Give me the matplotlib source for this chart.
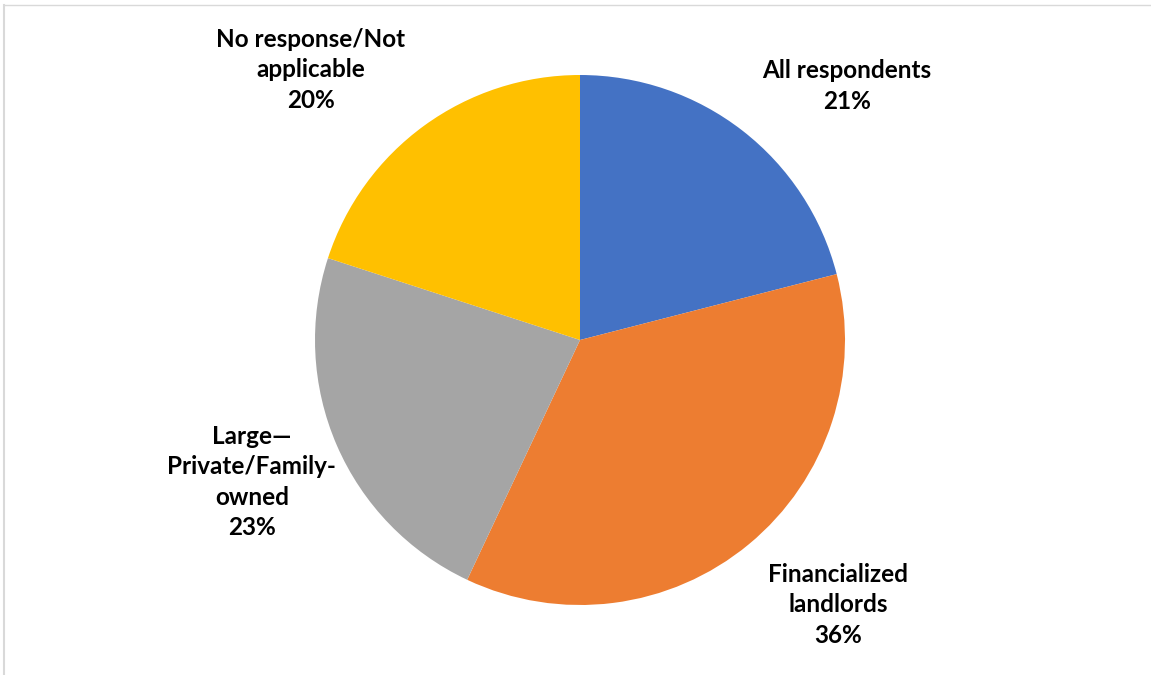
import matplotlib
matplotlib.use("Agg")
from matplotlib import pyplot as plt
from matplotlib.lines import Line2D

# data
labels = ["All respondents", "Financialized\nlandlords", "Large\u2014\nPrivate/Family-\nowned", "No response/Not\napplicable"]
shares = [21, 36, 23, 20]
colors = ["#4472C4", "#ED7D31", "#A5A5A5", "#FFC000"]

# label spots in pie units (radius = 1)
label_xy = [(1.008, 0.958), (0.974, -1.0), (-1.238, -0.536), (-1.015, 1.019)]

plt.rcParams['font.family'] = ['Lato', 'DejaVu Sans']

W, H = 1151, 675
fig = plt.figure(figsize=(W / 100, H / 100), dpi=100)
cx, cy, r = 580, 340, 265
ax = fig.add_axes([(cx - r) / W, (H - cy - r) / H, 2 * r / W, 2 * r / H])

ax.pie(shares, colors=colors, startangle=90, counterclock=False, radius=1,
       wedgeprops=dict(linewidth=0))
ax.set_xlim(-1, 1)
ax.set_ylim(-1, 1)
ax.set_aspect('equal')
ax.axis('off')

for lab, val, (x, y) in zip(labels, shares, label_xy):
    ax.text(x, y, "%s\n%d%%" % (lab, val), ha='center', va='center',
            fontsize=17.5, fontweight='bold', color='#000000',
            linespacing=1.4, clip_on=False)

# thin chart border (top and left visible)
fig.add_artist(Line2D([3.5 / W, 1], [1 - 4.5 / H, 1 - 4.5 / H], transform=fig.transFigure,
                      color='#D9D9D9', lw=1.0))
fig.add_artist(Line2D([3.5 / W, 3.5 / W], [0, 1 - 4.5 / H], transform=fig.transFigure,
                      color='#D9D9D9', lw=1.5))

fig.savefig("out.png", dpi=100, facecolor='white')
